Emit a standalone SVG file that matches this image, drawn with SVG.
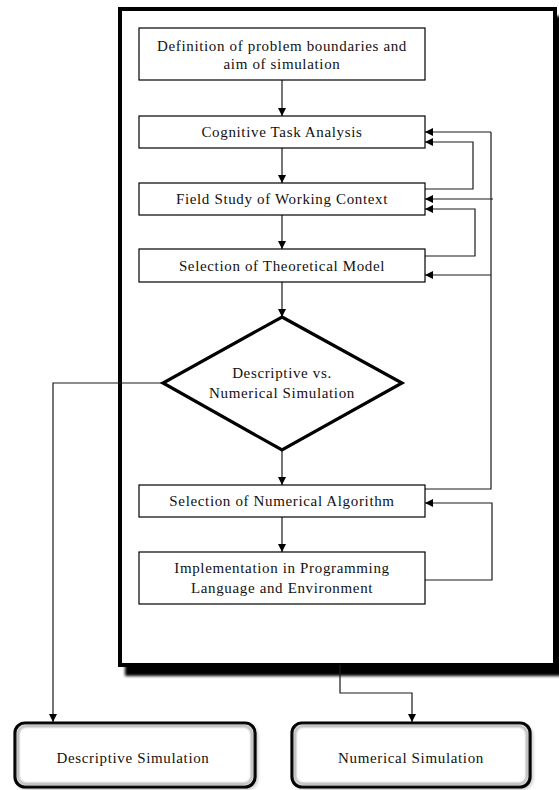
<svg xmlns="http://www.w3.org/2000/svg" width="559" height="790" viewBox="0 0 559 790">
  <style>
    .box { fill: #fff; stroke: #000; stroke-width: 1.2; }
    .frame { fill: #fff; stroke: #000; stroke-width: 4; }
    .diamond { fill: #fff; stroke: #000; stroke-width: 3.2; stroke-linejoin: miter; }
    .term { fill: #fff; stroke: #000; stroke-width: 3.2; }
    .term-inner { fill: none; stroke: #9a9a9a; stroke-width: 2; }
    .conn { fill: none; stroke: #1a1a1a; stroke-width: 1.2; }
    .arrow { marker-end: url(#head); }
    text { font-family: "Liberation Serif", "Times New Roman", serif; font-size: 15px; fill: #111; text-anchor: middle; letter-spacing: 0.65px; }
  </style>
  <defs>
    <marker id="head" viewBox="0 0 10 10" refX="10" refY="5" markerWidth="8" markerHeight="8" markerUnits="userSpaceOnUse" orient="auto">
      <path d="M0,0 L10,5 L0,10 z" fill="#000"/>
    </marker>
    <filter id="frameShadow" x="-5%" y="-5%" width="115%" height="115%">
      <feGaussianBlur stdDeviation="1.5"/>
    </filter>
    <filter id="softShadow" x="-10%" y="-20%" width="130%" height="150%">
      <feGaussianBlur stdDeviation="2"/>
    </filter>
    <filter id="innerBlur" x="-5%" y="-10%" width="110%" height="120%">
      <feGaussianBlur stdDeviation="0.9"/>
    </filter>
  </defs>

  <!-- outer process frame with heavy drop shadow -->
  <g id="frame">
    <rect x="125" y="16" width="437" height="660" fill="#000" filter="url(#frameShadow)"/>
    <rect class="frame" x="120" y="9" width="435" height="656"/>
  </g>

  <!-- connectors -->
  <g id="connectors">
    <!-- main vertical flow -->
    <line class="conn arrow" x1="282" y1="80" x2="282" y2="116"/>
    <line class="conn arrow" x1="282" y1="148" x2="282" y2="183"/>
    <line class="conn arrow" x1="282" y1="215" x2="282" y2="249"/>
    <line class="conn arrow" x1="282" y1="282" x2="282" y2="317"/>
    <line class="conn arrow" x1="282" y1="450" x2="282" y2="485"/>
    <line class="conn arrow" x1="282" y1="517" x2="282" y2="552"/>

    <!-- local feedback loops -->
    <polyline class="conn arrow" points="425,189 473,189 473,142 425,142"/>
    <polyline class="conn arrow" points="425,256 475,256 475,209 425,209"/>

    <!-- feedback from numerical algorithm to earlier steps -->
    <polyline class="conn" points="425,489 491,489 491,132"/>
    <line class="conn arrow" x1="491" y1="132" x2="425" y2="132"/>
    <line class="conn arrow" x1="493" y1="199" x2="425" y2="199"/>
    <line class="conn arrow" x1="491" y1="275" x2="425" y2="275"/>

    <!-- implementation back to algorithm -->
    <polyline class="conn arrow" points="425,580 492,580 492,503 425,503"/>

    <!-- outcomes -->
    <polyline class="conn arrow" points="163,383 53,383 53,722"/>
    <polyline class="conn arrow" points="340,665 340,693 412,693 412,722"/>
  </g>

  <g id="definition">
    <rect class="box" x="139" y="28" width="286" height="52"/>
    <text x="282" y="51">Definition of problem boundaries and</text>
    <text x="282" y="69">aim of simulation</text>
  </g>

  <g id="cognitive-task-analysis">
    <rect class="box" x="139" y="116" width="286" height="32"/>
    <text x="282" y="137">Cognitive Task Analysis</text>
  </g>

  <g id="field-study">
    <rect class="box" x="139" y="183" width="286" height="32"/>
    <text x="282" y="204">Field Study of Working Context</text>
  </g>

  <g id="theoretical-model">
    <rect class="box" x="139" y="249" width="286" height="33"/>
    <text x="282" y="271">Selection of Theoretical Model</text>
  </g>

  <g id="decision">
    <polygon class="diamond" points="282,317 402,383 282,450 163,383"/>
    <text x="282" y="378">Descriptive vs.</text>
    <text x="282" y="398">Numerical Simulation</text>
  </g>

  <g id="numerical-algorithm">
    <rect class="box" x="139" y="485" width="286" height="32"/>
    <text x="282" y="506">Selection of Numerical Algorithm</text>
  </g>

  <g id="implementation">
    <rect class="box" x="139" y="552" width="286" height="52"/>
    <text x="282" y="573">Implementation in Programming</text>
    <text x="282" y="593">Language and Environment</text>
  </g>

  <g id="descriptive-simulation">
    <rect x="17" y="725" width="240" height="64" rx="10" fill="#000" opacity="0.35" filter="url(#softShadow)"/>
    <rect class="term" x="15" y="723" width="240" height="64" rx="10"/>
    <rect class="term-inner" x="18" y="726" width="234" height="58" rx="8" filter="url(#innerBlur)"/>
    <text x="133" y="763">Descriptive Simulation</text>
  </g>

  <g id="numerical-simulation">
    <rect x="294" y="725" width="238" height="64" rx="10" fill="#000" opacity="0.35" filter="url(#softShadow)"/>
    <rect class="term" x="292" y="723" width="238" height="64" rx="10"/>
    <rect class="term-inner" x="295" y="726" width="232" height="58" rx="8" filter="url(#innerBlur)"/>
    <text x="411" y="763">Numerical Simulation</text>
  </g>
</svg>
